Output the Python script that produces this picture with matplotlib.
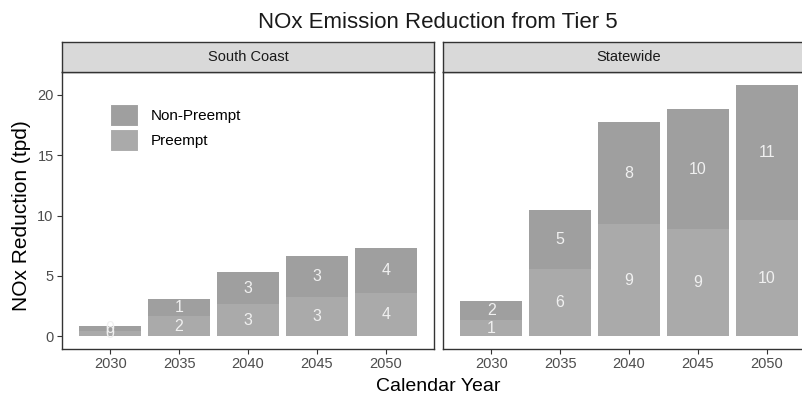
import matplotlib.pyplot as plt
from matplotlib.patches import Patch

plt.rcParams['font.family'] = ['Liberation Sans', 'DejaVu Sans']

years = [2030, 2035, 2040, 2045, 2050]
regions = ['South Coast', 'Statewide']

preempt = {
    'South Coast': [0.4, 1.65, 2.7, 3.25, 3.55],
    'Statewide': [1.35, 5.55, 9.3, 8.9, 9.6],
}
non_preempt = {
    'South Coast': [0.45, 1.45, 2.6, 3.4, 3.8],
    'Statewide': [1.57, 4.95, 8.45, 9.9, 11.25],
}

c_pre = '#aaaaaa'
c_non = '#9f9f9f'
dark = '#333333'
tick_col = '#4d4d4d'

fig = plt.figure(figsize=(8.02, 3.93), dpi=100)
fig.text(438 / 802, 1 - 27.5 / 393, 'NOx Emission Reduction from Tier 5',
         ha='center', va='baseline', fontsize=16, color='#1a1a1a')

ax_x = [62 / 802, 443 / 802]
ax_w = 372 / 802
ax_b = 44 / 393
ax_h = 277 / 393
strip_h = 30 / 393

axes = []
for i, reg in enumerate(regions):
    ax = fig.add_axes([ax_x[i], ax_b, ax_w, ax_h])
    pre = preempt[reg]
    non = non_preempt[reg]
    ax.bar(years, pre, width=4.5, color=c_pre, linewidth=0)
    ax.bar(years, non, width=4.5, bottom=pre, color=c_non, linewidth=0)
    for x, p, n in zip(years, pre, non):
        ax.text(x, p / 2, f'{round(p)}', ha='center', va='center',
                color='#f0f0f0', fontsize=11.5)
        ax.text(x, p + n / 2, f'{round(n)}', ha='center', va='center',
                color='#f0f0f0', fontsize=11.5)

    ax.set_xlim(2026.5, 2053.5)
    ax.set_ylim(-1.05, 21.9)
    ax.set_xticks(years)
    ax.set_yticks([0, 5, 10, 15, 20])
    ax.tick_params(colors=dark, labelcolor=tick_col, labelsize=10.5,
                   length=3.5, width=0.8, pad=2.5)
    for s in ax.spines.values():
        s.set_color(dark)
        s.set_linewidth(1.0)
    if i == 1:
        ax.set_yticklabels([])
        ax.tick_params(axis='y', length=0)

    sax = fig.add_axes([ax_x[i], ax_b + ax_h, ax_w, strip_h])
    sax.set_facecolor('#d9d9d9')
    sax.set_xticks([])
    sax.set_yticks([])
    for s in sax.spines.values():
        s.set_color(dark)
        s.set_linewidth(1.0)
    sax.text(0.5, 0.5, reg, ha='center', va='center', fontsize=10.5,
             color='#1a1a1a', transform=sax.transAxes)
    axes.append(ax)

fig.text(22 / 802, 1 - 216 / 393, 'NOx Reduction (tpd)', rotation=90,
         ha='center', va='center', fontsize=15, color='black')
fig.text(438 / 802, 0.006, 'Calendar Year', ha='center', va='baseline',
         fontsize=14, color='black')

handles = [Patch(facecolor=c_non, edgecolor='white', linewidth=0.8),
           Patch(facecolor=c_pre, edgecolor='white', linewidth=0.8)]
axes[0].legend(handles, ['Non-Preempt', 'Preempt'], loc='upper left',
               bbox_to_anchor=(0.129, 0.884), frameon=False, borderpad=0,
               fontsize=11, handlelength=1.85, handleheight=1.85,
               labelspacing=0.2, handletextpad=0.8, borderaxespad=0)

fig.savefig('out.png', dpi=100)
